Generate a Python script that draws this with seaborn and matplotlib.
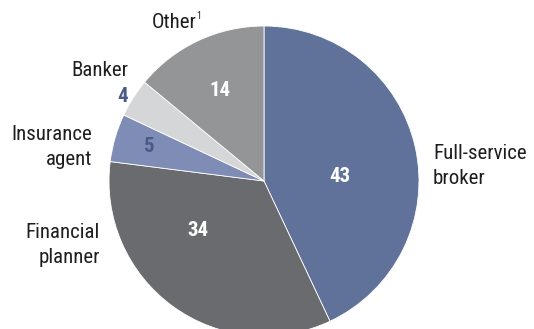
import matplotlib
matplotlib.use("Agg")
import matplotlib.pyplot as plt
import seaborn as sns

sns.set_theme(style="white")
plt.rcParams["font.family"] = ["Roboto Condensed", "DejaVu Sans"]

# Where investors get advice (percent of respondents)
categories = ["Full-service\nbroker", "Financial\nplanner", "Insurance\nagent", "Banker", "Other"]
shares = [43, 34, 5, 4, 14]
colors = ["#607299", "#6a6b6f", "#7f8db6", "#d5d6d8", "#949597"]
value_colors = ["white", "white", "#4b5b88", "#4b5b88", "white"]

W, H = 534, 329
fig = plt.figure(figsize=(W / 100, H / 100), dpi=100)
ax = fig.add_axes([0, 0, 1, 1])

cx, cy, r = 264, H - 181, 155
ax.pie(
    shares,
    colors=colors,
    startangle=90,
    counterclock=False,
    center=(cx, cy),
    radius=r,
    wedgeprops=dict(edgecolor="white", linewidth=0.6),
    frame=True,
)
ax.set_xlim(0, W)
ax.set_ylim(0, H)
ax.set_aspect("auto")
ax.axis("off")

fs = 15
tc = "#1e1e1e"
ls = 1.4

# Value labels inside (or beside) each slice
value_pos = [(340, 176), (198, 231), (148, 146), (123, 97), (220, 91)]
for v, (x, y), c in zip(shares, value_pos, value_colors):
    ax.text(x, H - y, str(v), color=c, fontsize=fs, fontweight="bold",
            ha="center", va="center")

# Category labels
ax.text(433, H - 166, categories[0], ha="left", va="center", fontsize=fs,
        color=tc, linespacing=ls)
ax.text(100, H - 245, categories[1], ha="right", va="center", fontsize=fs,
        color=tc, linespacing=ls)
ax.text(92, H - 147, categories[2], ha="right", va="center", fontsize=fs,
        color=tc, linespacing=ls)
ax.text(128, H - 71, categories[3], ha="right", va="center", fontsize=fs,
        color=tc)
ax.text(197, H - 23, categories[4], ha="right", va="center", fontsize=fs,
        color=tc)
ax.text(196, H - 16, "1", ha="left", va="center", fontsize=7, color=tc)

fig.savefig("out.png", dpi=100)
